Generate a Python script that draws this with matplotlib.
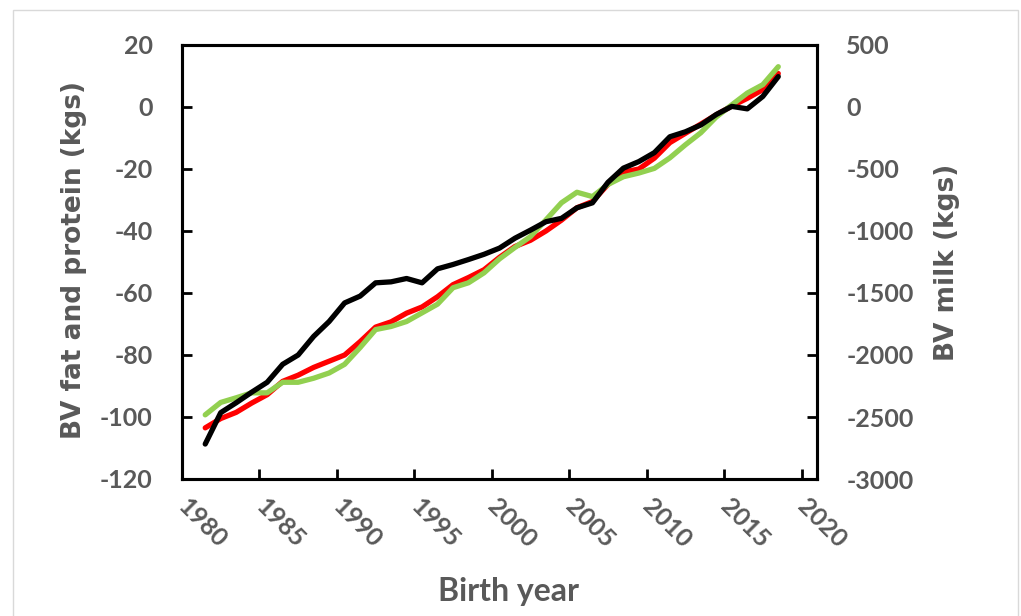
import matplotlib
matplotlib.use("Agg")
import matplotlib.pyplot as plt
from matplotlib.patches import Rectangle
import numpy as np

plt.rcParams["axes.unicode_minus"] = False

years = list(range(1981, 2019))
fat = [-103.5, -100.5, -98.5, -95.5, -92.8, -88.5, -86.5, -84, -82, -80,
       -75.7, -71, -69.3, -66.5, -64.5, -61.2, -57.3, -55, -52.5, -48.5,
       -45, -43, -40, -36.5, -32.5, -30.5, -25, -21, -20, -16.5,
       -11.5, -8.5, -5.5, -2.5, 0.3, 2.8, 5.6, 10.8]
protein = [-99.3, -95.3, -93.8, -92.2, -92.2, -88.8, -88.8, -87.5, -85.8, -83,
           -77.6, -71.8, -70.8, -69.2, -66.4, -63.6, -58.3, -56.7, -53.5, -49,
           -45.3, -41.8, -36.4, -30.9, -27.5, -28.9, -25, -22.5, -21.3, -19.8,
           -16.4, -12.2, -8.3, -3.2, 0.7, 4.5, 7.2, 13]
milk = [-2718, -2465, -2385, -2300, -2220, -2075, -2000, -1850, -1730, -1580,
        -1525, -1418, -1410, -1383, -1418, -1305, -1270, -1230, -1188, -1138,
        -1058, -993, -925, -898, -813, -773, -608, -493, -440, -368,
        -240, -200, -145, -60, 5, -15, 85, 245]
xticks = [1980, 1985, 1990, 1995, 2000, 2005, 2010, 2015, 2020]
left_ticks = [-120, -100, -80, -60, -40, -20, 0, 20]
right_ticks = [-3000, -2500, -2000, -1500, -1000, -500, 0, 500]

GRAY = "#595959"
TICKFONT = "Lato"

fig = plt.figure(figsize=(10.21, 6.16), dpi=100)
W, H = 1021, 616
# chart-area border
fig.patches.append(Rectangle((13 / W, -0.01), (1018 - 13) / W, (616 - 10) / H + 0.01,
                             transform=fig.transFigure, fill=False,
                             edgecolor="#D9D9D9", linewidth=1.0))

ax = fig.add_axes([182 / W, 1 - 479 / H, (817 - 182) / W, (479 - 45) / H])
ax2 = ax.twinx()

xpos = np.array(years) + 0.5  # plotted at mid-year
ax.plot(xpos, fat, color="#FF0000", lw=3.8, solid_capstyle="round", solid_joinstyle="round")
ax.plot(xpos, protein, color="#92D050", lw=3.8, solid_capstyle="round", solid_joinstyle="round")
ax2.plot(xpos, milk, color="#000000", lw=3.8, solid_capstyle="round", solid_joinstyle="round")

ax.set_xlim(1980, 2021)
ax.set_ylim(-120, 20)
ax2.set_ylim(-3000, 500)
ax.set_xticks(xticks)
ax.set_yticks(left_ticks)
ax2.set_yticks(right_ticks)

for a in (ax, ax2):
    for s in a.spines.values():
        s.set_linewidth(2.2)
        s.set_color("black")

ax.tick_params(axis="y", direction="in", length=7, width=2, pad=21,
               labelsize=18, labelcolor=GRAY)
ax2.tick_params(axis="y", direction="in", length=7, width=2, pad=21,
                labelsize=18, labelcolor=GRAY)
ax.tick_params(axis="x", direction="in", length=7, width=2, pad=17,
               labelsize=18, labelcolor=GRAY)

for lab in ax.get_yticklabels() + ax2.get_yticklabels():
    lab.set_fontfamily(TICKFONT)
    lab.set_fontweight("bold")
ax.set_xticklabels([str(t) for t in xticks])
for lab in ax.get_xticklabels():
    lab.set_fontfamily(TICKFONT)
    lab.set_fontweight("bold")
    lab.set_rotation(-45)
    lab.set_rotation_mode("anchor")
    lab.set_ha("left")
    lab.set_va("center")

fig.text(74 / W, 1 - 260 / H, "BV fat and protein (kgs)", rotation=90,
         ha="center", va="center", fontsize=19, fontweight="bold",
         color=GRAY, family="DejaVu Sans")
fig.text(947 / W, 1 - 262 / H, "BV milk (kgs)", rotation=90,
         ha="center", va="center", fontsize=19, fontweight="bold",
         color=GRAY, family="DejaVu Sans")
fig.text(508 / W, 1 - 592 / H, "Birth year", ha="center", va="center",
         fontsize=23, fontweight="bold", color=GRAY, family="Lato")

fig.savefig("out.png", dpi=100)
